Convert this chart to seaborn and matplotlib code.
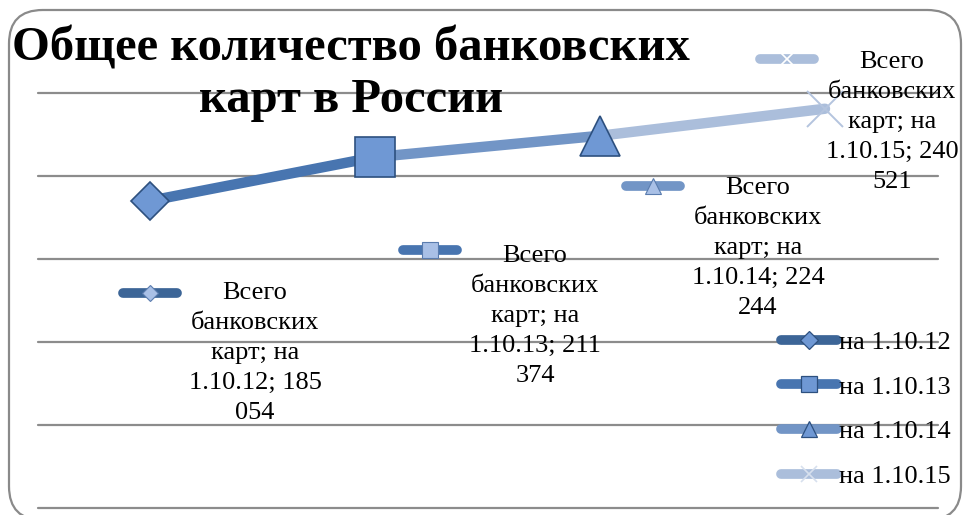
import matplotlib
matplotlib.use("Agg")
import matplotlib.pyplot as plt
from matplotlib.lines import Line2D
from matplotlib.patches import FancyBboxPatch
import pandas as pd
import seaborn as sns

# data
dates = ["1.10.12", "1.10.13", "1.10.14", "1.10.15"]
cards = [185054, 211374, 224244, 240521]
series_name = "Всего банковских карт"
title = "Общее количество банковских\nкарт в России"

colors = ["#3c6597", "#4875b0", "#7295c6", "#abbedb"]
markers = ["D", "s", "^", "x"]
msizes = [19, 29, 29, 26]

sns.set_style("white")
plt.rcParams["font.family"] = ["Liberation Serif", "DejaVu Serif"]
plt.rcParams["text.color"] = "black"

W, H = 963, 515
fig = plt.figure(figsize=(W / 100, H / 100), dpi=100)


def fx(px):
    return px / W


def fy(py):
    return 1 - py / H


# rounded border of the chart area
fig.patches.append(FancyBboxPatch((fx(9), fy(520)), fx(952), 510 / H,
                                  boxstyle="round,pad=0,rounding_size=0.035",
                                  transform=fig.transFigure, fill=False,
                                  edgecolor="#8a8a8a", linewidth=1.6,
                                  mutation_aspect=W / H, zorder=0))

ax = fig.add_axes([fx(37.5), fy(508), fx(900), (508 - 93) / H])
ax.set_xlim(-0.5, len(dates) - 0.5)
ax.set_ylim(0, 250000)
for v in range(0, 250001, 50000):
    ax.axhline(v, color="#8c8c8c", linewidth=1.6, clip_on=False, zorder=1)
for s in ax.spines.values():
    s.set_visible(False)
ax.set_xticks([])
ax.set_yticks([])
ax.patch.set_alpha(0)

# line segments, each coloured like the point it leads to
rows = []
for i in range(1, len(dates)):
    for j in (i - 1, i):
        rows.append({"x": j, "y": cards[j], "seg": dates[i]})
seg_df = pd.DataFrame(rows)
sns.lineplot(data=seg_df, x="x", y="y", hue="seg", palette=colors[1:],
             linewidth=7.5, legend=False, ax=ax, solid_capstyle="round",
             sort=False, zorder=2)

for i, (d, v) in enumerate(zip(dates, cards)):
    if markers[i] == "x":
        ax.plot(i, v, marker="x", ms=msizes[i], mew=1.4, color="#b4c4de",
                zorder=3, clip_on=False)
    else:
        ax.plot(i, v, marker=markers[i], ms=msizes[i], mfc="#6f98d4",
                mec="#2d507f", mew=1.2, zorder=3, clip_on=False)
ax.set_xlabel("")
ax.set_ylabel("")

fig.text(fx(351), fy(74), title, ha="center", va="center", fontsize=35,
         fontweight="bold", linespacing=1.22)

# data labels with their small series keys
label_text_pos = [(255, 353), (535, 316), (758, 248), (892, 122)]
label_key_pos = [(150, 293), (430, 250), (653, 186), (787, 59)]
for i, (d, v) in enumerate(zip(dates, cards)):
    num = f"{v:,}".replace(",", " ")
    a, b = num.split(" ")
    txt = f"Всего\nбанковских\nкарт; на\n{d}; {a}\n{b}"
    tx, ty = label_text_pos[i]
    fig.text(fx(tx), fy(ty), txt, ha="center", va="center", fontsize=19,
             linespacing=1.48)
    kx, ky = label_key_pos[i]
    fig.add_artist(Line2D([fx(kx - 27), fx(kx + 27)], [fy(ky), fy(ky)],
                          transform=fig.transFigure, color=colors[i],
                          linewidth=7, solid_capstyle="round"))
    if markers[i] == "x":
        fig.add_artist(Line2D([fx(kx)], [fy(ky)], transform=fig.transFigure,
                              marker="x", ms=10, mew=1.2, color="white"))
    else:
        fig.add_artist(Line2D([fx(kx)], [fy(ky)], transform=fig.transFigure,
                              marker=markers[i], ms=11 if markers[i] != "D" else 8,
                              mfc="#a9c0e6", mec="#5a7cae", mew=0.8))

# legend
handles = []
for i, d in enumerate(dates):
    if markers[i] == "x":
        h = Line2D([], [], color=colors[i], linewidth=7, solid_capstyle="round",
                   marker="x", ms=11, mew=1.2, mec="#d7e0ee")
    else:
        h = Line2D([], [], color=colors[i], linewidth=7, solid_capstyle="round",
                   marker=markers[i], ms=12 if markers[i] != "D" else 9,
                   mfc="#6f98d4", mec="#2d507f", mew=0.9)
    handles.append(h)
fig.legend(handles, ["на " + d for d in dates], loc="upper left",
           bbox_to_anchor=(fx(770), fy(320)), frameon=False, fontsize=19,
           handlelength=2.15, handletextpad=0.05, labelspacing=0.8,
           borderaxespad=0)

fig.savefig("out.png", dpi=100)
